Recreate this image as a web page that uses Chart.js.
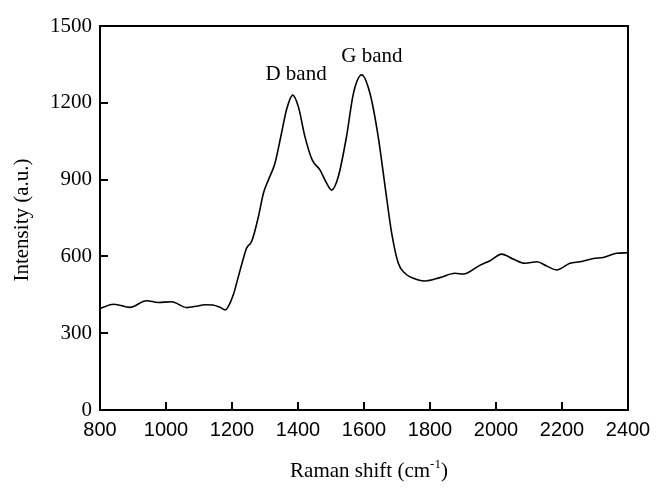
<!DOCTYPE html>
<html>
<head>
<meta charset="utf-8">
<script src="https://cdn.jsdelivr.net/npm/chart.js@4/dist/chart.umd.min.js"></script>
<style>
  html, body { margin: 0; padding: 0; background: #fff; }
  #wrap { width: 664px; height: 491px; position: relative; }
</style>
</head>
<body>
<div id="wrap"><canvas id="c" width="664" height="491"></canvas></div>
<script>
const ramanShift = [800, 842, 891, 941, 976, 1017, 1063, 1090, 1118, 1142, 1165, 1179, 1189, 1204, 1219, 1234, 1244, 1260, 1280, 1295, 1310, 1330, 1350, 1365, 1384, 1401, 1421, 1443, 1467, 1487, 1502, 1522, 1547, 1568, 1593, 1618, 1643, 1664, 1684, 1704, 1724, 1765, 1785, 1830, 1876, 1901, 1952, 1982, 2017, 2053, 2088, 2124, 2154, 2184, 2224, 2255, 2295, 2325, 2365, 2400];
const intensity = [397, 413, 401, 427, 420, 423, 400, 405, 411, 410, 400, 391, 405, 450, 520, 590, 632, 660, 755, 846, 898, 963, 1081, 1172, 1230, 1185, 1068, 977, 937, 885, 859, 911, 1068, 1237, 1309, 1237, 1068, 872, 690, 573, 534, 508, 504, 517, 534, 531, 566, 583, 609, 589, 573, 579, 562, 547, 573, 579, 592, 596, 612, 614];
const xTicks = [800, 1000, 1200, 1400, 1600, 1800, 2000, 2200, 2400];
const yTicks = [0, 300, 600, 900, 1200, 1500];
const bandLabels = ["D band", "G band"];
const bandX = [1394, 1624];
const bandY = [1309, 1379];
const xTitle = "Raman shift (cm";
const xTitleSup = "-1";
const yTitle = "Intensity (a.u.)";

const points = ramanShift.map((x, i) => ({ x: x, y: intensity[i] }));

const decor = {
  id: 'decor',
  afterDraw(chart) {
    const ctx = chart.ctx;
    const a = chart.chartArea;
    const xs = chart.scales.x, ys = chart.scales.y;
    ctx.save();
    ctx.strokeStyle = '#000';
    ctx.lineWidth = 2;
    ctx.beginPath();
    ctx.moveTo(a.left, a.top); ctx.lineTo(a.right, a.top); ctx.lineTo(a.right, a.bottom);
    ctx.stroke();
    ctx.beginPath();
    xTicks.forEach(v => {
      if (v === xs.min || v === xs.max) return;
      const px = Math.round(xs.getPixelForValue(v));
      ctx.moveTo(px, a.bottom); ctx.lineTo(px, a.bottom - 8);
    });
    yTicks.forEach(v => {
      if (v === ys.min || v === ys.max) return;
      const py = Math.round(ys.getPixelForValue(v));
      ctx.moveTo(a.left, py); ctx.lineTo(a.left + 8, py);
    });
    ctx.stroke();
    ctx.fillStyle = '#000';
    ctx.font = '21px "Liberation Serif", "Times New Roman", serif';
    ctx.textAlign = 'center';
    ctx.textBaseline = 'middle';
    bandLabels.forEach((t, i) => {
      ctx.fillText(t, xs.getPixelForValue(bandX[i]), ys.getPixelForValue(bandY[i]));
    });
    const cx = (a.left + a.right) / 2 + 5;
    const ty = 470;
    ctx.font = '21px "Liberation Serif", "Times New Roman", serif';
    const w1 = ctx.measureText(xTitle).width;
    ctx.font = '13px "Liberation Serif", "Times New Roman", serif';
    const w2 = ctx.measureText(xTitleSup).width;
    ctx.font = '21px "Liberation Serif", "Times New Roman", serif';
    const w3 = ctx.measureText(')').width;
    let sx = cx - (w1 + w2 + w3) / 2;
    ctx.textAlign = 'left';
    ctx.textBaseline = 'alphabetic';
    ctx.fillText(xTitle, sx, ty + 7);
    ctx.font = '13px "Liberation Serif", "Times New Roman", serif';
    ctx.fillText(xTitleSup, sx + w1, ty - 2);
    ctx.font = '21px "Liberation Serif", "Times New Roman", serif';
    ctx.fillText(')', sx + w1 + w2, ty + 7);
    ctx.translate(22, (a.top + a.bottom) / 2 + 2);
    ctx.rotate(-Math.PI / 2);
    ctx.textAlign = 'center';
    ctx.textBaseline = 'middle';
    ctx.fillText(yTitle, 0, 0);
    ctx.restore();
  }
};

new Chart(document.getElementById('c'), {
  type: 'line',
  data: {
    datasets: [{
      data: points,
      borderColor: '#000',
      borderWidth: 1.6,
      pointRadius: 0,
      fill: false,
      cubicInterpolationMode: 'monotone'
    }]
  },
  options: {
    responsive: false,
    animation: false,
    layout: { padding: { left: 0, right: 36, top: 26, bottom: 0 } },
    plugins: { legend: { display: false }, tooltip: { enabled: false } },
    scales: {
      x: {
        type: 'linear',
        min: 800, max: 2400,
        afterBuildTicks: s => { s.ticks = xTicks.map(v => ({ value: v })); },
        afterFit: s => { s.height = 81; },
        grid: { display: false, drawTicks: false },
        border: { display: true, color: '#000', width: 2 },
        ticks: {
          color: '#000',
          padding: 8,
          maxRotation: 0,
          font: { family: '"Liberation Sans", Arial, sans-serif', size: 20 },
          callback: v => String(v)
        }
      },
      y: {
        min: 0, max: 1500,
        afterBuildTicks: s => { s.ticks = yTicks.map(v => ({ value: v })); },
        afterFit: s => { s.width = 100; },
        grid: { display: false, drawTicks: false },
        border: { display: true, color: '#000', width: 2 },
        ticks: {
          color: '#000',
          padding: 8,
          font: { family: '"Liberation Serif", "Times New Roman", serif', size: 21 },
          callback: v => String(v)
        }
      }
    }
  },
  plugins: [decor]
});
</script>
</body>
</html>
